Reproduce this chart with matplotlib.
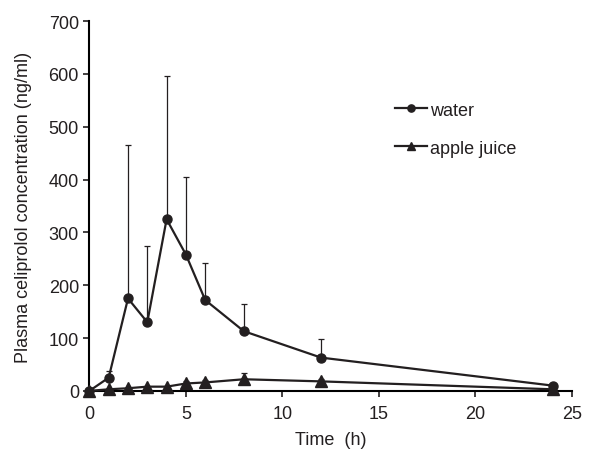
import matplotlib.pyplot as plt
import numpy as np

plt.rcParams['font.family'] = ['Liberation Sans', 'DejaVu Sans']
plt.rcParams['text.color'] = '#231f20'
plt.rcParams['axes.labelcolor'] = '#231f20'
plt.rcParams['xtick.color'] = '#231f20'
plt.rcParams['ytick.color'] = '#231f20'

time_h = [0, 1, 2, 3, 4, 5, 6, 8, 12, 24]
water = [0, 25, 175, 130, 325, 258, 172, 113, 63, 10]
water_sd = [0, 13, 290, 145, 272, 147, 70, 52, 36, 0]
apple = [0, 3, 5, 8, 8, 14, 16, 22, 18, 3]
apple_sd = [0, 0, 0, 0, 0, 4, 4, 11, 4, 0]

fig = plt.figure(figsize=(6.04, 4.52), dpi=100)
ax = fig.add_axes([0.148, 0.133, 0.799, 0.818])

zeros = np.zeros(len(time_h))
ax.errorbar(time_h, water, yerr=[zeros, water_sd], fmt='none', ecolor='#231f20',
            elinewidth=0.9, capsize=2.5, capthick=0.9)
ax.errorbar(time_h, apple, yerr=[zeros, apple_sd], fmt='none', ecolor='#231f20',
            elinewidth=0.9, capsize=2.5, capthick=0.9)
ax.plot(time_h, water, color='#231f20', lw=1.6, marker='o', ms=6.5, label='water',
        clip_on=False, zorder=3)
ax.plot(time_h, apple, color='#231f20', lw=1.6, marker='^', ms=8, label='apple juice',
        clip_on=False, zorder=3)

ax.set_xlim(0, 25)
ax.set_ylim(0, 700)
ax.set_xticks(range(0, 26, 5))
ax.set_yticks(range(0, 701, 100))
ax.spines['top'].set_visible(False)
ax.spines['right'].set_visible(False)
ax.spines['left'].set_linewidth(1.5)
ax.spines['bottom'].set_linewidth(1.5)
ax.tick_params(labelsize=13, width=1.2, length=4)
ax.tick_params(axis='x', pad=6)
ax.set_xlabel('Time  (h)', fontsize=13, labelpad=7)
ax.set_ylabel('Plasma celiprolol concentration (ng/ml)', fontsize=13, labelpad=12)

ax.legend(loc='upper left', bbox_to_anchor=(0.634, 0.782), frameon=False, fontsize=13,
          handlelength=1.75, handletextpad=0.15, labelspacing=1.15, markerscale=0.8,
          borderpad=0, borderaxespad=0)

fig.savefig('out.png', dpi=100)
